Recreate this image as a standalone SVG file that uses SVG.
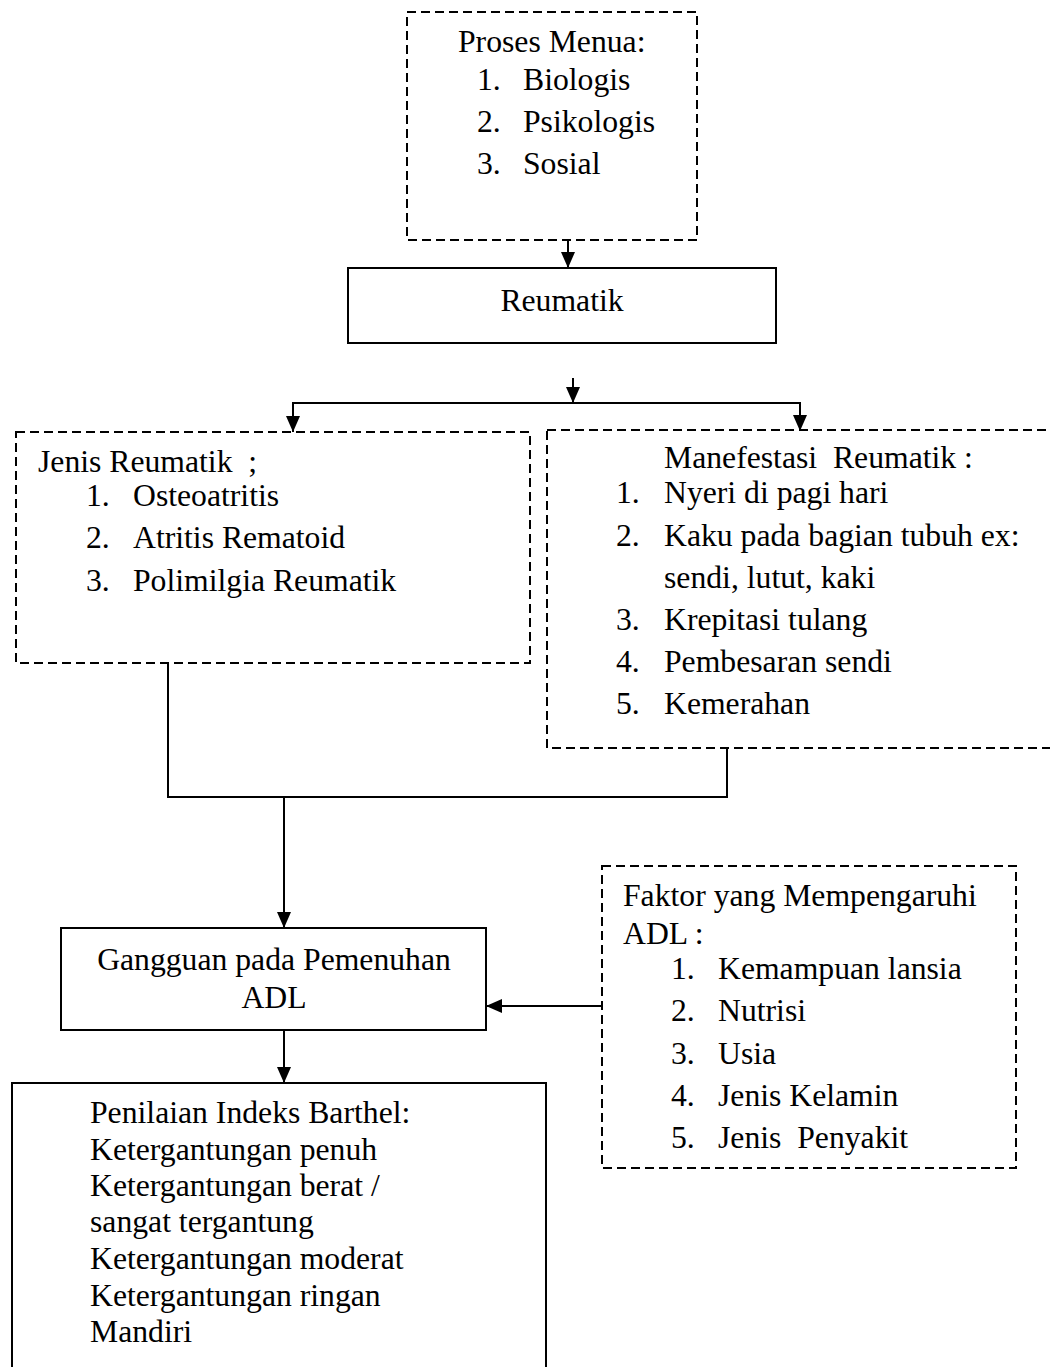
<svg xmlns="http://www.w3.org/2000/svg" width="1050" height="1367" viewBox="0 0 1050 1367">
<style>
.solid{fill:#fff;stroke:#000;stroke-width:2}
.dash{fill:#fff;stroke:#000;stroke-width:2;stroke-dasharray:9 5}
.ln{fill:none;stroke:#000;stroke-width:2}
text{font-family:"Liberation Serif","Times New Roman",serif;font-size:31.7px;fill:#000}
.c{text-anchor:middle}
</style>
<defs>
<marker id="ah" viewBox="0 0 16 14" refX="16" refY="7" markerWidth="16" markerHeight="14" markerUnits="userSpaceOnUse" orient="auto">
<path d="M0,0 L16,7 L0,14 z" fill="#000"/>
</marker>
</defs>
<rect width="1050" height="1367" fill="#fff"/>
<g id="proses-menua">
<rect class="dash" x="407" y="12" width="290" height="228"/>
<text x="458" y="52">Proses Menua:</text>
<text x="477" y="90">1.</text><text x="523" y="90">Biologis</text>
<text x="477" y="132">2.</text><text x="523" y="132">Psikologis</text>
<text x="477" y="174">3.</text><text x="523" y="174">Sosial</text>
</g>
<g id="reumatik">
<rect class="solid" x="348" y="268" width="428" height="75"/>
<text class="c" x="562" y="311">Reumatik</text>
</g>
<g id="jenis-reumatik">
<rect class="dash" x="16" y="432" width="514" height="231"/>
<text x="38" y="472" xml:space="preserve">Jenis Reumatik  ;</text>
<text x="86" y="506">1.</text><text x="133" y="506">Osteoatritis</text>
<text x="86" y="548">2.</text><text x="133" y="548">Atritis Rematoid</text>
<text x="86" y="591">3.</text><text x="133" y="591">Polimilgia Reumatik</text>
</g>
<g id="manefestasi">
<rect class="dash" x="547" y="430" width="520" height="318"/>
<text x="664" y="468" xml:space="preserve">Manefestasi  Reumatik :</text>
<text x="616" y="503">1.</text><text x="664" y="503">Nyeri di pagi hari</text>
<text x="616" y="546">2.</text><text x="664" y="546">Kaku pada bagian tubuh ex:</text>
<text x="664" y="588">sendi, lutut, kaki</text>
<text x="616" y="630">3.</text><text x="664" y="630">Krepitasi tulang</text>
<text x="616" y="672">4.</text><text x="664" y="672">Pembesaran sendi</text>
<text x="616" y="714">5.</text><text x="664" y="714">Kemerahan</text>
</g>
<g id="gangguan">
<rect class="solid" x="61" y="928" width="425" height="102"/>
<text class="c" x="274" y="970">Gangguan pada Pemenuhan</text>
<text class="c" x="274" y="1008">ADL</text>
</g>
<g id="faktor">
<rect class="dash" x="602" y="866" width="414" height="302"/>
<text x="623" y="906">Faktor yang Mempengaruhi</text>
<text x="623" y="944">ADL :</text>
<text x="671" y="979">1.</text><text x="718" y="979">Kemampuan lansia</text>
<text x="671" y="1021">2.</text><text x="718" y="1021">Nutrisi</text>
<text x="671" y="1064">3.</text><text x="718" y="1064">Usia</text>
<text x="671" y="1106">4.</text><text x="718" y="1106">Jenis Kelamin</text>
<text x="671" y="1148">5.</text><text x="718" y="1148" xml:space="preserve">Jenis  Penyakit</text>
</g>
<g id="barthel">
<rect class="solid" x="12" y="1083" width="534" height="300"/>
<text x="90" y="1123">Penilaian Indeks Barthel:</text>
<text x="90" y="1160">Ketergantungan penuh</text>
<text x="90" y="1196">Ketergantungan berat /</text>
<text x="90" y="1232">sangat tergantung</text>
<text x="90" y="1269">Ketergantungan moderat</text>
<text x="90" y="1306">Ketergantungan ringan</text>
<text x="90" y="1342">Mandiri</text>
</g>
<g id="connectors">
<line class="ln" x1="568" y1="240" x2="568" y2="268" marker-end="url(#ah)"/>
<line class="ln" x1="573" y1="378" x2="573" y2="403" marker-end="url(#ah)"/>
<polyline class="ln" points="293,432 293,403 800,403 800,431"/>
<line class="ln" x1="293" y1="410" x2="293" y2="432" marker-end="url(#ah)"/>
<line class="ln" x1="800" y1="410" x2="800" y2="431" marker-end="url(#ah)"/>
<polyline class="ln" points="168,663 168,797 727,797 727,748"/>
<line class="ln" x1="284" y1="797" x2="284" y2="928" marker-end="url(#ah)"/>
<line class="ln" x1="602" y1="1006" x2="486" y2="1006" marker-end="url(#ah)"/>
<line class="ln" x1="284" y1="1030" x2="284" y2="1083" marker-end="url(#ah)"/>
</g>
</svg>
